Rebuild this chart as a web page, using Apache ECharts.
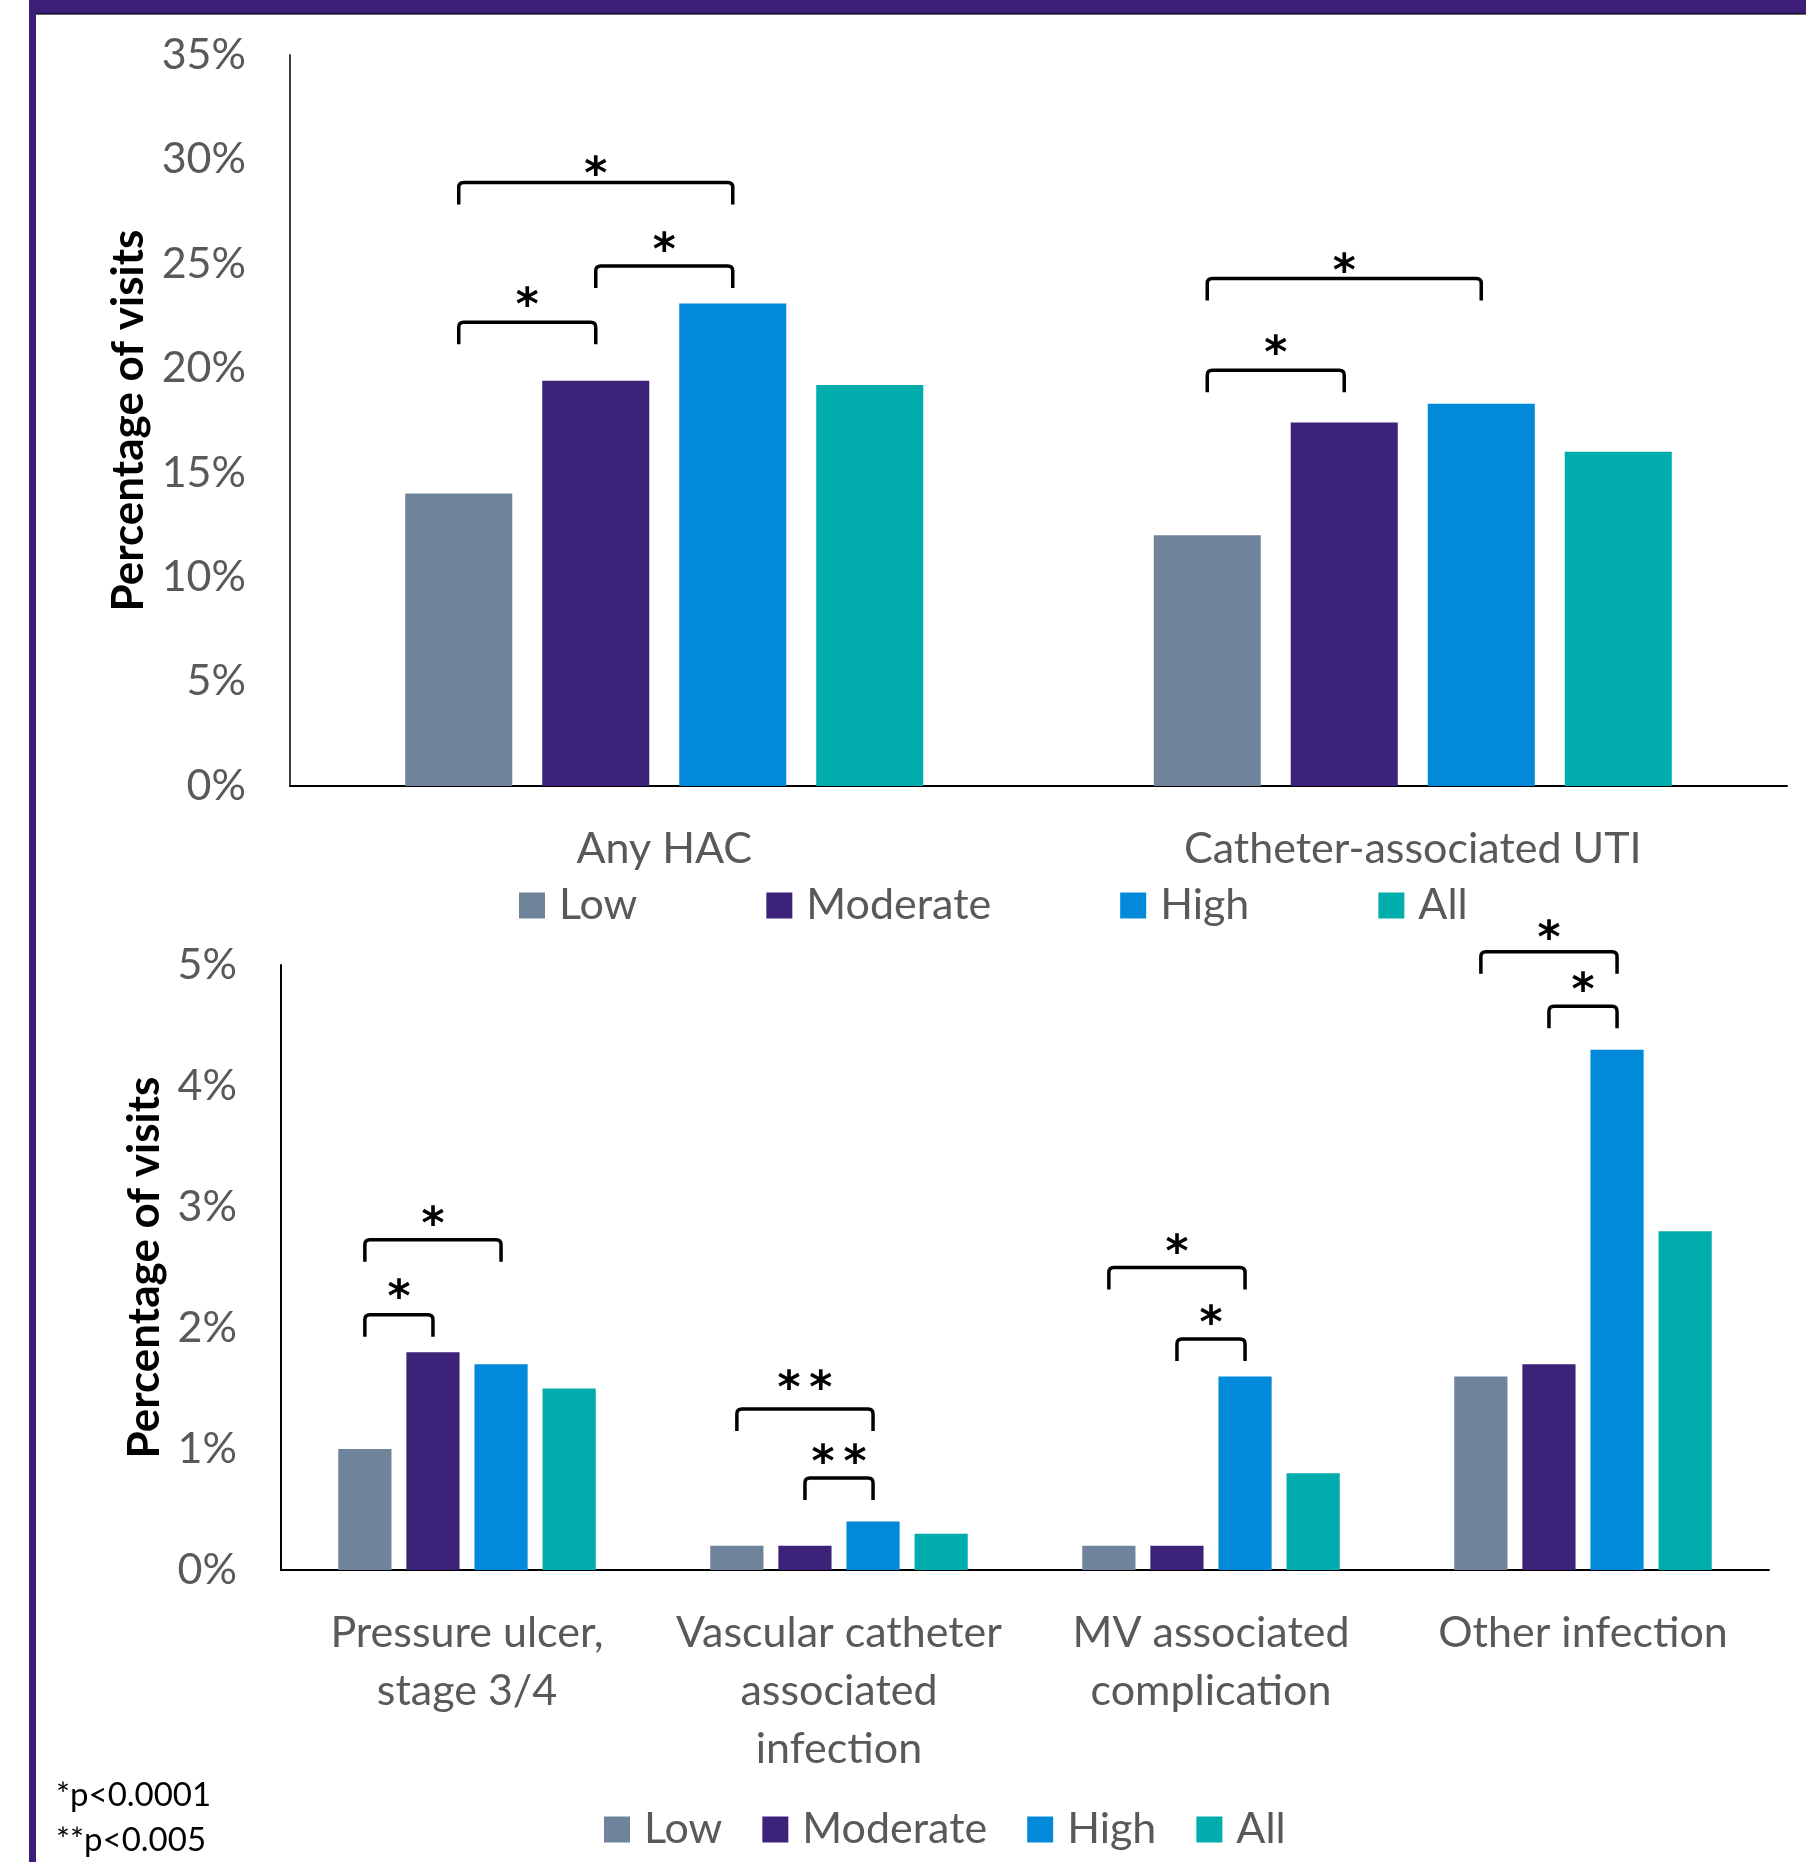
<!DOCTYPE html>
<html>
<head>
<meta charset="utf-8">
<script src="https://cdn.jsdelivr.net/npm/echarts@6/dist/echarts.min.js"></script>
<style>
  html, body { margin: 0; padding: 0; background: #ffffff; }
  #chart { width: 1806px; height: 1862px; }
</style>
</head>
<body>
<div id="chart"></div>
<script>
// ---- data ----
const seriesNames = ['Low', 'Moderate', 'High', 'All'];

const topCategories = ['Any HAC', 'Catheter-associated UTI'];
const topLow      = [14.0, 12.0];
const topModerate = [19.4, 17.4];
const topHigh     = [23.1, 18.3];
const topAll      = [19.2, 16.0];
const topTicks = { min: 0, max: 35, interval: 5 };

const bottomCategories = [
  'Pressure ulcer,\nstage 3/4',
  'Vascular catheter\nassociated\ninfection',
  'MV associated\ncomplication',
  'Other infection'
];
const bottomLow      = [1.0, 0.2, 0.2, 1.6];
const bottomModerate = [1.8, 0.2, 0.2, 1.7];
const bottomHigh     = [1.7, 0.4, 1.6, 4.3];
const bottomAll      = [1.5, 0.3, 0.8, 2.8];
const bottomTicks = { min: 0, max: 5, interval: 1 };

// significance brackets: [category, from series, to series, bracket level, star level]
const topBrackets = [
  [0, 0, 1, 22.2, 23.45],
  [0, 1, 2, 24.9, 26.07],
  [0, 0, 2, 28.9, 29.71],
  [1, 0, 1, 19.9, 21.12],
  [1, 0, 2, 24.3, 25.04]
];
const topBracketLabels = ['*', '*', '*', '*', '*'];

const bottomBrackets = [
  [0, 0, 1, 2.11, 2.33],
  [0, 0, 2, 2.73, 2.93],
  [1, 0, 2, 1.33, 1.57],
  [1, 1, 2, 0.76, 0.96],
  [2, 0, 2, 2.50, 2.70],
  [2, 1, 2, 1.91, 2.11],
  [3, 0, 2, 5.11, 5.29],
  [3, 1, 2, 4.66, 4.86]
];
const bottomBracketLabels = ['*', '*', '**', '**', '*', '*', '*', '*'];

const footnotes = ['*p<0.0001', '**p<0.005'];

// ---- styling ----
const seriesColors = ['#6F849B', '#3C2379', '#0289DA', '#00ADAC'];
const BAR_WIDTH_RATIO = 0.143;
const BAR_GAP_RATIO = 0.28;
const LEG = 22;
const STAR_SIZE = 44;
const FONT = 'Lato, "Open Sans", sans-serif';
const GRAY = '#595959';

function bracketRenderer(labels) {
  return function (params, api) {
    const cat = api.value(0);
    const from = api.value(1);
    const to = api.value(2);
    const level = api.value(3);
    const starLevel = api.value(4);
    const band = api.size([1, 0])[0];
    const w = band * BAR_WIDTH_RATIO;
    const step = w * (1 + BAR_GAP_RATIO);
    const c = api.coord([cat, level]);
    const x1 = c[0] + (from - 1.5) * step;
    const x2 = c[0] + (to - 1.5) * step;
    const y = c[1];
    const yb = y + LEG;
    const r = 5;
    const sy = api.coord([cat, starLevel])[1];
    const pathData = 'M' + x1 + ' ' + yb + ' L' + x1 + ' ' + (y + r) +
      ' Q' + x1 + ' ' + y + ' ' + (x1 + r) + ' ' + y +
      ' L' + (x2 - r) + ' ' + y +
      ' Q' + x2 + ' ' + y + ' ' + x2 + ' ' + (y + r) +
      ' L' + x2 + ' ' + yb;
    return {
      type: 'group',
      children: [
        {
          type: 'path',
          shape: { pathData: pathData, x: x1, y: y, width: x2 - x1, height: yb - y },
          style: { stroke: '#000', lineWidth: 3.5, fill: null, lineCap: 'butt' }
        },
        {
          type: 'text',
          x: (x1 + x2) / 2,
          y: sy + STAR_SIZE * 0.25,
          style: {
            text: labels[params.dataIndex].split('').join('\u2009'),
            fill: '#000',
            fontSize: STAR_SIZE,
            fontWeight: 'bold',
            fontFamily: '"DejaVu Sans", sans-serif',
            align: 'center',
            verticalAlign: 'middle'
          }
        }
      ]
    };
  };
}

function barSeries(name, data, idx, gridIdx) {
  return {
    name: name,
    type: 'bar',
    xAxisIndex: gridIdx,
    yAxisIndex: gridIdx,
    data: data,
    barWidth: (BAR_WIDTH_RATIO * 100) + '%',
    barGap: (BAR_GAP_RATIO * 100) + '%',
    itemStyle: { color: seriesColors[idx] },
    emphasis: { disabled: true },
    animation: false
  };
}

function valueAxis(gridIdx, ticks, lineColor, nameGap) {
  return {
    type: 'value',
    gridIndex: gridIdx,
    min: ticks.min,
    max: ticks.max,
    interval: ticks.interval,
    name: 'Percentage of visits',
    nameLocation: 'middle',
    nameRotate: 90,
    nameGap: nameGap,
    nameTextStyle: { fontFamily: FONT, fontWeight: 'bold', fontSize: 44, color: '#000' },
    axisLine: { show: true, lineStyle: { color: lineColor, width: 2 } },
    axisTick: { show: false },
    splitLine: { show: false },
    axisLabel: {
      formatter: function (v) { return v + '%'; },
      fontFamily: FONT, fontSize: 43, color: GRAY, margin: 44
    }
  };
}

function categoryAxis(gridIdx, cats) {
  return {
    type: 'category',
    gridIndex: gridIdx,
    data: cats,
    axisLine: { show: true, onZero: false, lineStyle: { color: '#000', width: 2 } },
    axisTick: { show: false },
    splitLine: { show: false },
    axisLabel: {
      interval: 0,
      fontFamily: FONT, fontSize: 43, color: GRAY, margin: 34, lineHeight: 58
    }
  };
}

function legend(left, top, gap) {
  return {
    data: seriesNames,
    left: left,
    top: top,
    orient: 'horizontal',
    itemWidth: 26,
    itemHeight: 26,
    itemGap: gap,
    icon: 'rect',
    selectedMode: false,
    textStyle: { fontFamily: FONT, fontSize: 43, color: GRAY, padding: [0, 0, 0, 9] }
  };
}

const chart = echarts.init(document.getElementById('chart'), null, { renderer: 'canvas' });

const topSeriesData = [topLow, topModerate, topHigh, topAll];
const bottomSeriesData = [bottomLow, bottomModerate, bottomHigh, bottomAll];

const series = [];
seriesNames.forEach(function (n, i) { series.push(barSeries(n, topSeriesData[i], i, 0)); });
seriesNames.forEach(function (n, i) { series.push(barSeries(n, bottomSeriesData[i], i, 1)); });
series.push({
  type: 'custom', xAxisIndex: 0, yAxisIndex: 0, clip: false, z: 5,
  renderItem: bracketRenderer(topBracketLabels),
  encode: { x: 0, y: 3 },
  data: topBrackets, animation: false, silent: true
});
series.push({
  type: 'custom', xAxisIndex: 1, yAxisIndex: 1, clip: false, z: 5,
  renderItem: bracketRenderer(bottomBracketLabels),
  encode: { x: 0, y: 3 },
  data: bottomBrackets, animation: false, silent: true
});

const option = {
  backgroundColor: '#ffffff',
  animation: false,
  grid: [
    { left: 290, top: 55, width: 1497, height: 731, containLabel: false },
    { left: 281, top: 965, width: 1488, height: 605, containLabel: false }
  ],
  xAxis: [categoryAxis(0, topCategories), categoryAxis(1, bottomCategories)],
  yAxis: [valueAxis(0, topTicks, '#404040', 138), valueAxis(1, bottomTicks, '#000', 110)],
  legend: [legend(514, 879, 129), legend(599, 1803, 40)],
  series: series,
  graphic: [
    // frame
    { type: 'rect', shape: { x: 29, y: 0, width: 1777, height: 13 }, style: { fill: '#3D1F77' }, silent: true },
    { type: 'rect', shape: { x: 36, y: 13, width: 1770, height: 1 }, style: { fill: '#1C0C3C' }, silent: true },
    { type: 'rect', shape: { x: 36, y: 14, width: 1770, height: 1 }, style: { fill: '#6A6A6A' }, silent: true },
    { type: 'rect', shape: { x: 29, y: 0, width: 7, height: 1862 }, style: { fill: '#3D1F77' }, silent: true },
    // footnotes
    { type: 'text', left: 56, top: 1779, style: { text: footnotes[0], fontFamily: FONT, fontSize: 33, fill: '#000' } },
    { type: 'text', left: 56, top: 1824, style: { text: footnotes[1], fontFamily: FONT, fontSize: 33, fill: '#000' } }
  ]
};

chart.setOption(option);
</script>
</body>
</html>
